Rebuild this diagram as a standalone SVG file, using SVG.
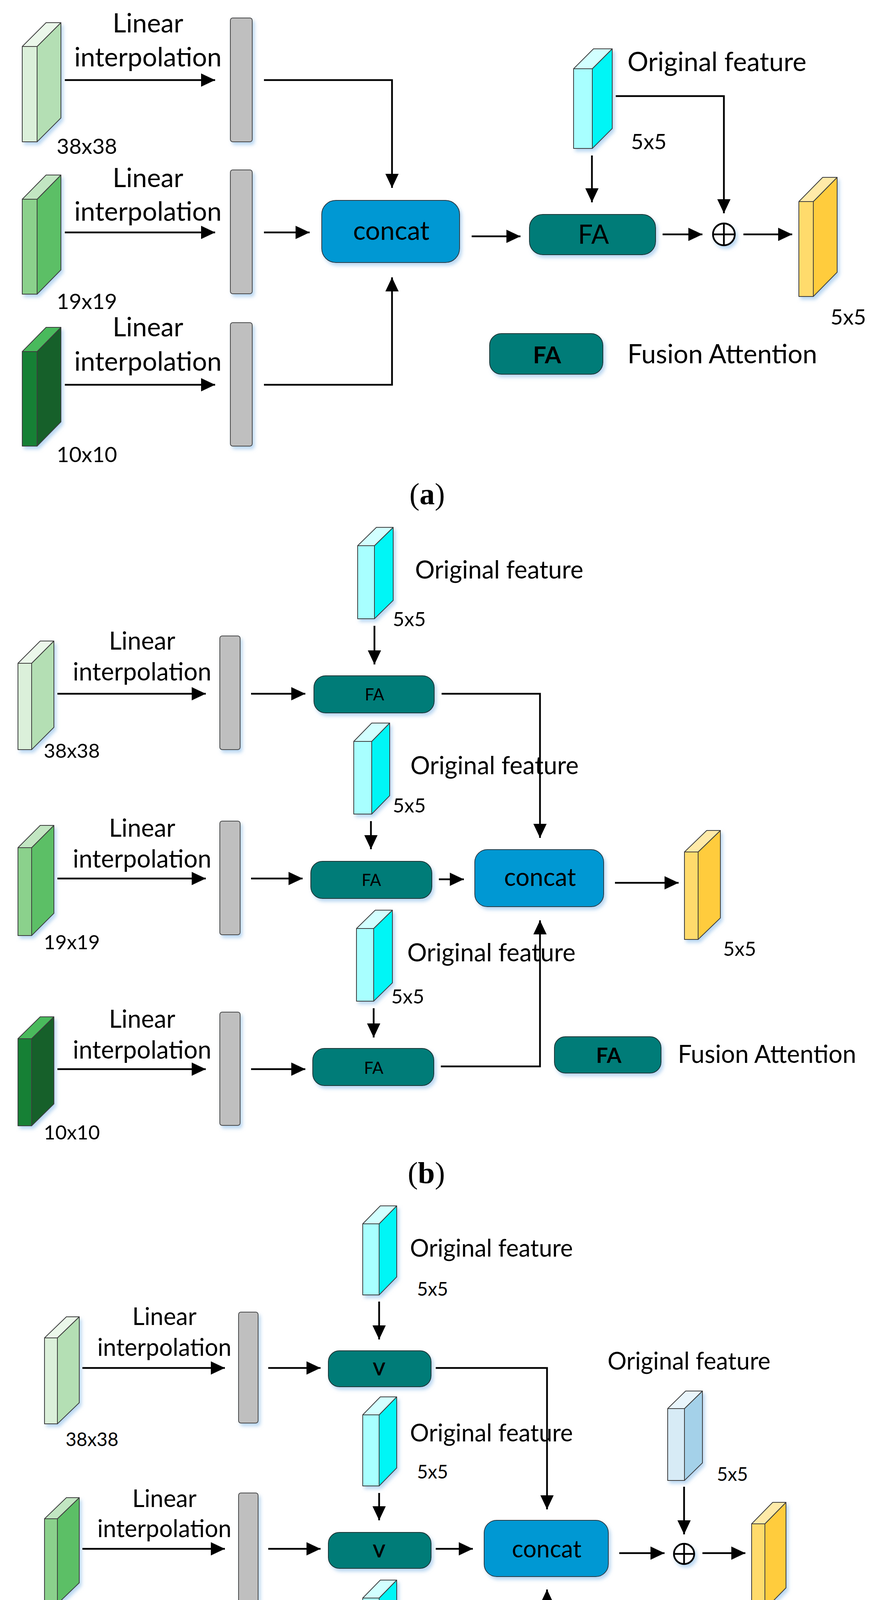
<svg xmlns="http://www.w3.org/2000/svg" width="2241" height="4803" viewBox="0 0 2241 4803">
<defs>
<filter id="sh" x="-30%" y="-30%" width="160%" height="160%">
<feDropShadow dx="5" dy="7" stdDeviation="5" flood-color="#7fb5e6" flood-opacity="0.55"/>
</filter>
<marker id="ah" viewBox="0 0 36 34" refX="36" refY="17" markerWidth="36" markerHeight="34" markerUnits="userSpaceOnUse" orient="auto">
<path d="M0,0 L36,17 L0,34 Z" fill="#000"/>
</marker>
</defs>
<style>
text{font-family:Lato,"Liberation Sans",sans-serif;fill:#000}
.la{font-size:67px}.lb{font-size:63px}.lc{font-size:61px}
.da{font-size:55px}.db{font-size:51px}.dc{font-size:48px}
.m{text-anchor:middle}
.bd{font-weight:bold}
.cap{font-family:"Liberation Serif",serif;font-size:78px;text-anchor:middle}
.cub *{stroke:#3c3c3c;stroke-width:2;stroke-linejoin:round}
.sh{filter:url(#sh)}
.bar{fill:#bfbfbf;stroke:#4a4a4a;stroke-width:2}
.cc{fill:#0098d3;stroke:#2a3a44;stroke-width:2}
.fa{fill:#007c78;stroke:#1b3535;stroke-width:2}
.g1f{fill:#dbf0da}.g1s{fill:#b4dfb4}.g1t{fill:#ebf7ea}
.g2f{fill:#8bd18c}.g2s{fill:#5cbf66}.g2t{fill:#c2e6c2}
.g3f{fill:#128034}.g3s{fill:#17602a}.g3t{fill:#4aba5c}
.cf{fill:#a8ffff}.cs{fill:#00f6f6}.ct{fill:#d2ffff}
.bf{fill:#d7ebf6}.bs{fill:#a4d1e9}.bt{fill:#e9f5fb}
.yf{fill:#ffdb6c}.ys{fill:#ffcc3c}.yt{fill:#ffeaa8}
.cn line,.cn polyline{stroke:#000;stroke-width:4.5;fill:none}
.ar{marker-end:url(#ah)}
.op{fill:#fff;stroke:#000;stroke-width:4.5}
</style>
<rect width="2241" height="4803" fill="#fff"/>

<!-- ================= PANEL A ================= -->
<g id="a-in38" class="cub sh"><rect class="g1f" x="57" y="119" width="38" height="244"/><polygon class="g1s" points="95,119 156,58 156,302 95,363"/><polygon class="g1t" points="57,119 118,58 156,58 95,119"/></g>
<g id="a-in19" class="cub sh"><rect class="g2f" x="57" y="510" width="38" height="243"/><polygon class="g2s" points="95,510 156,448 156,691 95,753"/><polygon class="g2t" points="57,510 118,448 156,448 95,510"/></g>
<g id="a-in10" class="cub sh"><rect class="g3f" x="57" y="900" width="38" height="242"/><polygon class="g3s" points="95,900 156,838 156,1080 95,1142"/><polygon class="g3t" points="57,900 118,838 156,838 95,900"/></g>
<text class="da" x="145" y="394">38x38</text>
<text class="da" x="145" y="791">19x19</text>
<text class="da" x="145" y="1183">10x10</text>
<text class="la m" x="379" y="83">Linear</text><text class="la m" x="379" y="170">interpolation</text>
<text class="la m" x="379" y="479">Linear</text><text class="la m" x="379" y="565">interpolation</text>
<text class="la m" x="379" y="861">Linear</text><text class="la m" x="379" y="949">interpolation</text>
<g id="a-bar1" class="sh"><rect class="bar" x="590" y="46" width="56" height="317" rx="6"/></g>
<g id="a-bar2" class="sh"><rect class="bar" x="590" y="435" width="56" height="317" rx="6"/></g>
<g id="a-bar3" class="sh"><rect class="bar" x="590" y="826" width="56" height="316" rx="6"/></g>
<g id="a-concat"><rect class="cc sh" x="824" y="513" width="353" height="159" rx="36"/><text class="la m" x="1002" y="614">concat</text></g>
<g id="a-fa"><rect class="fa sh" x="1356" y="549" width="323" height="103" rx="34"/><text class="la m" x="1520" y="624">FA</text></g>
<g id="a-orig" class="cub sh"><rect class="cf" x="1469" y="176" width="48" height="204"/><polygon class="cs" points="1517,176 1568,125 1568,329 1517,380"/><polygon class="ct" points="1469,176 1520,125 1568,125 1517,176"/></g>
<text class="la" x="1607" y="182">Original feature</text>
<text class="da" x="1616" y="382">5x5</text>
<g id="a-plus" class="sh"><circle class="op" cx="1854" cy="600" r="28"/><line x1="1826" y1="600" x2="1882" y2="600" stroke="#000" stroke-width="4.5"/><line x1="1854" y1="572" x2="1854" y2="628" stroke="#000" stroke-width="4.5"/></g>
<g id="a-out" class="cub sh"><rect class="yf" x="2046" y="516" width="37" height="243"/><polygon class="ys" points="2083,516 2144,454 2144,697 2083,759"/><polygon class="yt" points="2046,516 2107,454 2144,454 2083,516"/></g>
<text class="da" x="2127" y="831">5x5</text>
<g id="a-legend"><rect class="fa sh" x="1254" y="854" width="290" height="104" rx="30"/><text class="la m bd" x="1401" y="930" style="font-size:60px">FA</text><text class="la" x="1607" y="930">Fusion Attention</text></g>
<text class="cap" x="1094" y="1291">(<tspan font-weight="bold">a</tspan>)</text>

<g id="a-connectors" class="cn">
<line class="ar" x1="166" y1="205" x2="551" y2="205"/>
<line class="ar" x1="166" y1="595" x2="551" y2="595"/>
<line class="ar" x1="166" y1="985" x2="551" y2="985"/>
<polyline class="ar" points="676,205 1004,205 1004,481"/>
<line class="ar" x1="676" y1="595" x2="793" y2="595"/>
<polyline class="ar" points="676,985 1004,985 1004,710"/>
<line class="ar" x1="1208" y1="605" x2="1333" y2="605"/>
<line class="ar" x1="1516" y1="398" x2="1516" y2="518"/>
<polyline class="ar" points="1577,246 1854,246 1854,546"/>
<line class="ar" x1="1697" y1="600" x2="1799" y2="600"/>
<line class="ar" x1="1904" y1="600" x2="2029" y2="600"/>
</g>

<!-- ================= PANEL B ================= -->
<g id="b-in38" class="cub sh"><rect class="g1f" x="46" y="1698" width="35" height="221"/><polygon class="g1s" points="81,1698 138,1641 138,1862 81,1919"/><polygon class="g1t" points="46,1698 103,1641 138,1641 81,1698"/></g>
<g id="b-in19" class="cub sh"><rect class="g2f" x="46" y="2170" width="35" height="225"/><polygon class="g2s" points="81,2170 138,2113 138,2338 81,2395"/><polygon class="g2t" points="46,2170 103,2113 138,2113 81,2170"/></g>
<g id="b-in10" class="cub sh"><rect class="g3f" x="46" y="2659" width="35" height="223"/><polygon class="g3s" points="81,2659 138,2603 138,2826 81,2882"/><polygon class="g3t" points="46,2659 103,2603 138,2603 81,2659"/></g>
<text class="db" x="112" y="1940">38x38</text>
<text class="db" x="112" y="2430">19x19</text>
<text class="db" x="112" y="2917">10x10</text>
<text class="lb m" x="364" y="1663">Linear</text><text class="lb m" x="364" y="1742">interpolation</text>
<text class="lb m" x="364" y="2142">Linear</text><text class="lb m" x="364" y="2221">interpolation</text>
<text class="lb m" x="364" y="2631">Linear</text><text class="lb m" x="364" y="2710">interpolation</text>
<g id="b-bar1" class="sh"><rect class="bar" x="563" y="1628" width="52" height="291" rx="6"/></g>
<g id="b-bar2" class="sh"><rect class="bar" x="563" y="2102" width="52" height="291" rx="6"/></g>
<g id="b-bar3" class="sh"><rect class="bar" x="563" y="2591" width="52" height="290" rx="6"/></g>
<g id="b-fa1"><rect class="fa sh" x="804" y="1730" width="308" height="95" rx="30"/><text class="m" x="959" y="1793" style="font-size:42px">FA</text></g>
<g id="b-fa2"><rect class="fa sh" x="796" y="2205" width="310" height="95" rx="30"/><text class="m" x="951" y="2268" style="font-size:42px">FA</text></g>
<g id="b-fa3"><rect class="fa sh" x="801" y="2684" width="310" height="95" rx="30"/><text class="m" x="957" y="2749" style="font-size:42px">FA</text></g>
<g id="b-orig1" class="cub sh"><rect class="cf" x="916" y="1397" width="43" height="187"/><polygon class="cs" points="959,1397 1007,1350 1007,1537 959,1584"/><polygon class="ct" points="916,1397 964,1350 1007,1350 959,1397"/></g>
<g id="b-orig2" class="cub sh"><rect class="cf" x="906" y="1898" width="46" height="186"/><polygon class="cs" points="952,1898 998,1851 998,2037 952,2084"/><polygon class="ct" points="906,1898 952,1851 998,1851 952,1898"/></g>
<g id="b-orig3" class="cub sh"><rect class="cf" x="913" y="2377" width="44" height="186"/><polygon class="cs" points="957,2377 1005,2330 1005,2516 957,2563"/><polygon class="ct" points="913,2377 961,2330 1005,2330 957,2377"/></g>
<text class="lb" x="1063" y="1481">Original feature</text><text class="db" x="1006" y="1603">5x5</text>
<text class="lb" x="1051" y="1982">Original feature</text><text class="db" x="1006" y="2080">5x5</text>
<text class="lb" x="1043" y="2461">Original feature</text><text class="db" x="1002" y="2569">5x5</text>
<g id="b-concat"><rect class="cc sh" x="1216" y="2175" width="330" height="146" rx="32"/><text class="lb m" x="1383" y="2268">concat</text></g>
<g id="b-out" class="cub sh"><rect class="yf" x="1753" y="2181" width="35" height="224"/><polygon class="ys" points="1788,2181 1845,2126 1845,2350 1788,2405"/><polygon class="yt" points="1753,2181 1810,2126 1845,2126 1788,2181"/></g>
<text class="db" x="1852" y="2447">5x5</text>
<g id="b-legend"><rect class="fa sh" x="1420" y="2654" width="273" height="93" rx="28"/><text class="m bd" x="1559" y="2721" style="font-size:54px">FA</text><text class="lb" x="1736" y="2721">Fusion Attention</text></g>
<text class="cap" x="1092" y="3029">(<tspan font-weight="bold">b</tspan>)</text>

<g id="b-connectors" class="cn">
<line class="ar" x1="147" y1="1776" x2="527" y2="1776"/>
<line class="ar" x1="147" y1="2249" x2="527" y2="2249"/>
<line class="ar" x1="147" y1="2737" x2="527" y2="2737"/>
<line class="ar" x1="643" y1="1776" x2="782" y2="1776"/>
<line class="ar" x1="643" y1="2249" x2="775" y2="2249"/>
<line class="ar" x1="643" y1="2737" x2="782" y2="2737"/>
<line class="ar" x1="959" y1="1602" x2="959" y2="1701"/>
<line class="ar" x1="950" y1="2102" x2="950" y2="2174"/>
<line class="ar" x1="957" y1="2581" x2="957" y2="2656"/>
<polyline class="ar" points="1131,1776 1383,1776 1383,2145"/>
<line class="ar" x1="1124" y1="2251" x2="1188" y2="2251"/>
<polyline class="ar" points="1129,2730 1383,2730 1383,2356"/>
<line class="ar" x1="1575" y1="2260" x2="1738" y2="2260"/>
</g>

<!-- ================= PANEL C ================= -->
<g id="c-in38" class="cub sh"><rect class="g1f" x="114" y="3425" width="33" height="220"/><polygon class="g1s" points="147,3425 203,3371 203,3591 147,3645"/><polygon class="g1t" points="114,3425 170,3371 203,3371 147,3425"/></g>
<g id="c-in19" class="cub sh"><rect class="g2f" x="114" y="3888" width="33" height="218"/><polygon class="g2s" points="147,3888 203,3834 203,4052 147,4106"/><polygon class="g2t" points="114,3888 170,3834 203,3834 147,3888"/></g>
<g id="c-in10" class="cub sh"><rect class="g3f" x="114" y="4365" width="33" height="219"/><polygon class="g3s" points="147,4365 203,4310 203,4529 147,4584"/><polygon class="g3t" points="114,4365 170,4310 203,4310 147,4365"/></g>
<text class="dc" x="168" y="3702">38x38</text>
<text class="dc" x="168" y="4179">19x19</text>
<text class="dc" x="168" y="4654">10x10</text>
<text class="lc m" x="421" y="3392">Linear</text><text class="lc m" x="421" y="3471">interpolation</text>
<text class="lc m" x="421" y="3858">Linear</text><text class="lc m" x="421" y="3935">interpolation</text>
<text class="lc m" x="421" y="4333">Linear</text><text class="lc m" x="421" y="4410">interpolation</text>
<g id="c-bar1" class="sh"><rect class="bar" x="611" y="3359" width="50" height="284" rx="6"/></g>
<g id="c-bar2" class="sh"><rect class="bar" x="611" y="3822" width="50" height="283" rx="6"/></g>
<g id="c-bar3" class="sh"><rect class="bar" x="611" y="4299" width="50" height="283" rx="6"/></g>
<g id="c-v1"><rect class="fa sh" x="841" y="3458" width="263" height="92" rx="28"/><text class="m bd" x="971" y="3521" style="font-size:45px">V</text></g>
<g id="c-v2"><rect class="fa sh" x="841" y="3923" width="263" height="92" rx="28"/><text class="m bd" x="971" y="3987" style="font-size:45px">V</text></g>
<g id="c-v3"><rect class="fa sh" x="841" y="4390" width="263" height="92" rx="28"/><text class="m bd" x="971" y="4453" style="font-size:45px">V</text></g>
<g id="c-orig1" class="cub sh"><rect class="cf" x="929" y="3133" width="42" height="182"/><polygon class="cs" points="971,3133 1016,3087 1016,3269 971,3315"/><polygon class="ct" points="929,3133 974,3087 1016,3087 971,3133"/></g>
<g id="c-orig2" class="cub sh"><rect class="cf" x="929" y="3622" width="42" height="182"/><polygon class="cs" points="971,3622 1016,3576 1016,3758 971,3804"/><polygon class="ct" points="929,3622 974,3576 1016,3576 971,3622"/></g>
<g id="c-orig3" class="cub sh"><rect class="cf" x="929" y="4091" width="42" height="180"/><polygon class="cs" points="971,4091 1016,4045 1016,4225 971,4271"/><polygon class="ct" points="929,4091 974,4045 1016,4045 971,4091"/></g>
<text class="lc" x="1050" y="3217">Original feature</text><text class="dc" x="1068" y="3317">5x5</text>
<text class="lc" x="1050" y="3690">Original feature</text><text class="dc" x="1068" y="3785">5x5</text>
<text class="lc" x="1050" y="4172">Original feature</text><text class="dc" x="1068" y="4259">5x5</text>
<g id="c-concat"><rect class="cc sh" x="1240" y="3892" width="318" height="144" rx="32"/><text class="lc m" x="1400" y="3987">concat</text></g>
<g id="c-orig4" class="cub sh"><rect class="bf" x="1710" y="3606" width="43" height="184"/><polygon class="bs" points="1753,3606 1799,3561 1799,3745 1753,3790"/><polygon class="bt" points="1710,3606 1756,3561 1799,3561 1753,3606"/></g>
<text class="lc" x="1556" y="3506">Original feature</text>
<text class="dc" x="1836" y="3791">5x5</text>
<g id="c-plus" class="sh"><circle class="op" cx="1752" cy="3978" r="26"/><line x1="1726" y1="3978" x2="1778" y2="3978" stroke="#000" stroke-width="4.5"/><line x1="1752" y1="3952" x2="1752" y2="4004" stroke="#000" stroke-width="4.5"/></g>
<g id="c-out" class="cub sh"><rect class="yf" x="1925" y="3901" width="34" height="219"/><polygon class="ys" points="1959,3901 2013,3846 2013,4065 1959,4120"/><polygon class="yt" points="1925,3901 1979,3846 2013,3846 1959,3901"/></g>
<text class="dc" x="2058" y="4149">5x5</text>
<g id="c-legend"><rect class="fa sh" x="1572" y="4215" width="262" height="92" rx="28"/><text class="m bd" x="1704" y="4277" style="font-size:48px">V</text>
<text x="1475" y="4417" style="font-family:'Liberation Serif',serif;font-style:italic;font-size:72px;fill:#555">V</text>
<text x="1522" y="4440" style="font-family:'Liberation Serif',serif;font-style:italic;font-size:44px;fill:#555">j</text>
<text x="1595" y="4420" style="font-size:82px">in formula (2)</text></g>
<text class="cap" x="1092" y="4768">(<tspan font-weight="bold">c</tspan>)</text>

<g id="c-connectors" class="cn">
<line class="ar" x1="211" y1="3502" x2="576" y2="3502"/>
<line class="ar" x1="211" y1="3965" x2="576" y2="3965"/>
<line class="ar" x1="211" y1="4441" x2="576" y2="4441"/>
<line class="ar" x1="687" y1="3502" x2="821" y2="3502"/>
<line class="ar" x1="687" y1="3965" x2="821" y2="3965"/>
<line class="ar" x1="687" y1="4441" x2="821" y2="4441"/>
<line class="ar" x1="971" y1="3332" x2="971" y2="3429"/>
<line class="ar" x1="971" y1="3822" x2="971" y2="3892"/>
<line class="ar" x1="971" y1="4289" x2="971" y2="4361"/>
<polyline class="ar" points="1116,3502 1401,3502 1401,3864"/>
<line class="ar" x1="1116" y1="3965" x2="1211" y2="3965"/>
<polyline class="ar" points="1116,4435 1401,4435 1401,4069"/>
<line class="ar" x1="1586" y1="3976" x2="1702" y2="3976"/>
<line class="ar" x1="1752" y1="3806" x2="1752" y2="3928"/>
<line class="ar" x1="1799" y1="3976" x2="1909" y2="3976"/>
</g>
</svg>
